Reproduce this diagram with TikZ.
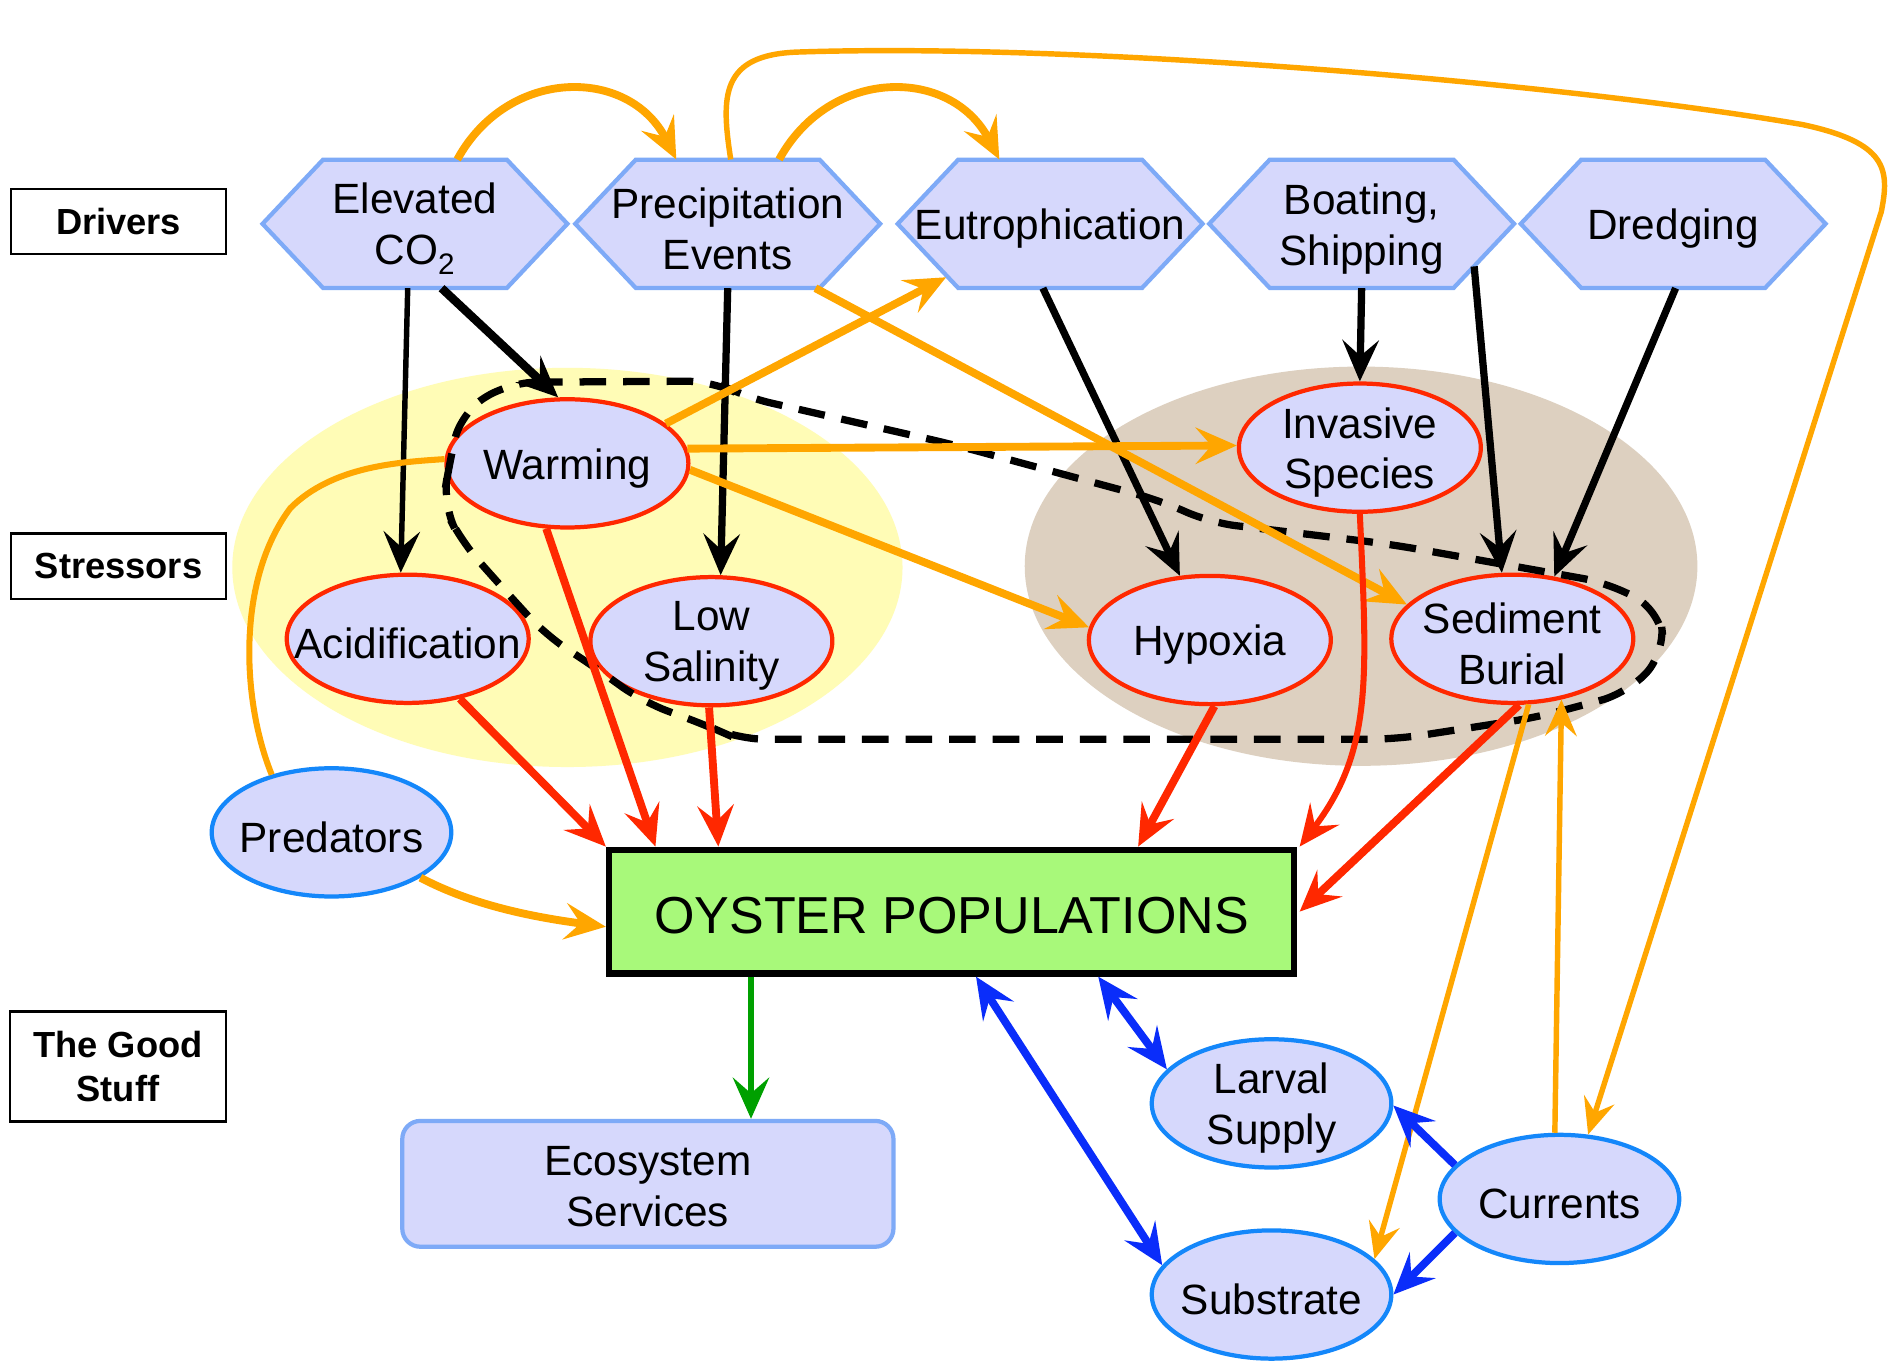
\documentclass[tikz,border=0pt]{standalone}
\usepackage{fontspec}
\setmainfont{Liberation Sans}
\usetikzlibrary{arrows.meta,shapes.geometric,calc}
\definecolor{nodefill}{RGB}{214,216,252}
\definecolor{hexline}{RGB}{126,170,247}
\definecolor{redline}{RGB}{255,40,0}
\definecolor{blueline}{RGB}{20,135,250}
\definecolor{orng}{RGB}{255,166,0}
\definecolor{bluearrow}{RGB}{10,45,250}
\definecolor{grnline}{RGB}{0,160,0}
\definecolor{yel}{RGB}{255,252,182}
\definecolor{brn}{RGB}{221,208,192}
\definecolor{oyfill}{RGB}{168,249,122}
\newcommand{\hexpath}[2]{\path[hexshape] (#1-126,#2) -- (#1-76,#2-53) -- (#1+76,#2-53) -- (#1+126,#2) -- (#1+76,#2+53) -- (#1-76,#2+53) -- cycle;}
\begin{document}
\begin{tikzpicture}[x=1pt,y=-1pt,
  every node/.style={font=\fontsize{35}{42}\selectfont, align=center, inner sep=0pt},
  hexbox/.style={minimum width=252pt, minimum height=106pt},
  hextxt/.style={yshift=-4pt},
  hexshape/.style={fill=nodefill, draw=hexline, line width=3.5pt, line join=miter},
  stress/.style={ellipse, fill=nodefill, draw=redline, line width=3.5pt, minimum width=200pt, minimum height=106pt},
  good/.style={ellipse, fill=nodefill, draw=blueline, line width=3.5pt, minimum width=198pt, minimum height=106pt},
  txt/.style={yshift=-4pt},
  lbl/.style={draw=black, line width=1.8pt, fill=white, font=\fontsize{30}{36}\selectfont\bfseries, minimum width=178pt},
  tip/.style={-{Stealth[length=34pt,width=30pt,inset=13pt]}},
  blk/.style={draw=black, line width=6pt, tip},
  org/.style={draw=orng, line width=6.5pt, tip},
  orgthin/.style={draw=orng, line width=4.5pt, -{Stealth[length=30pt,width=26pt,inset=11pt]}},
  orgline/.style={draw=orng, line width=5pt},
  rd/.style={draw=redline, line width=6.5pt, tip},
  blu/.style={draw=bluearrow, line width=6.5pt, tip},
  blu2/.style={draw=bluearrow, line width=6.5pt, {Stealth[length=34pt,width=30pt,inset=13pt]}-{Stealth[length=34pt,width=30pt,inset=13pt]}},
  grnarrow/.style={draw=grnline, line width=5pt, tip},
  dashpath/.style={draw=black, line width=6pt, dash pattern=on 22pt off 14pt, rounded corners=22pt}
]
\useasboundingbox (0,0) rectangle (1568,1125);
\fill[white] (0,0) rectangle (1568,1125);

% background regions
\fill[yel] (469,469) ellipse [x radius=277pt, y radius=165pt];
\fill[brn] (1125,468) ellipse [x radius=278pt, y radius=165pt];

% labels
\node[lbl, minimum height=54pt] (drv) at (98,183) {Drivers};
\node[lbl, minimum height=54pt] (strs) at (98,468) {Stressors};
\node[lbl, minimum height=91pt] (gdst) at (97.5,881.5) {The Good\\Stuff};

% drivers
\hexpath{343}{185}
\node[hexbox] (co2) at (343,185) {};
\node[hextxt] (co2T) at (co2) {Elevated\\CO\textsubscript{2}};
\hexpath{601.5}{185}
\node[hexbox] (prec) at (601.5,185) {};
\node[hextxt] (precT) at (prec) {Precipitation\\Events};
\hexpath{868}{185}
\node[hexbox] (eut) at (868,185) {};
\node[hextxt] (eutT) at (eut) {Eutrophication};
\hexpath{1125.5}{185}
\node[hexbox] (boat) at (1125.5,185) {};
\node[hextxt] (boatT) at (boat) {Boating,\\Shipping};
\hexpath{1383}{185}
\node[hexbox] (dred) at (1383,185) {};
\node[hextxt] (dredT) at (dred) {Dredging};

% stressors
\node[stress] (warm) at (469,383) {};
\node[txt] (warmT) at (warm) {Warming};
\node[stress] (acid) at (337,528) {};
\node[txt] (acidT) at (acid) {Acidification};
\node[stress] (lows) at (588,530) {};
\node[txt] (lowsT) at (lows) {Low\\Salinity};
\node[stress] (inv) at (1124,370) {};
\node[txt] (invT) at (inv) {Invasive\\Species};
\node[stress] (hyp) at (1000,529) {};
\node[txt] (hypT) at (hyp) {Hypoxia};
\node[stress] (sed) at (1250,528) {};
\node[txt] (sedT) at (sed) {Sediment\\Burial};

% good stuff
\node[good] (pred) at (274,688) {};
\node[txt] (predT) at (pred) {Predators};
\node[good] (larv) at (1051,912) {};
\node[txt] (larvT) at (larv) {Larval\\Supply};
\node[good] (subs) at (1051,1070) {};
\node[txt] (subsT) at (subs) {Substrate};
\node[good] (curr) at (1289,991) {};
\node[txt] (currT) at (curr) {Currents};

\node[draw=black, line width=5.5pt, fill=oyfill, minimum width=566pt, minimum height=102pt] (oy) at (786.5,753.5) {};
\node[yshift=-3pt, font=\fontsize{43}{50}\selectfont] (oyT) at (oy) {OYSTER POPULATIONS};
\node[draw=hexline, line width=3.5pt, fill=nodefill, rounded corners=15pt, minimum width=406pt, minimum height=104pt] (eco) at (535.5,978.5) {};
\node[yshift=-2pt] (ecoT) at (eco) {Ecosystem\\Services};

% dashed boundary
\draw[dashpath] (421,316) -- (590,315) -- (615,328) -- (790,368) -- (960,414) -- (1000,432) -- (1043,437) -- (1150,450) -- (1330,482) -- (1372,505) -- (1376,540) -- (1345,573) -- (1270,593) -- (1154,611) -- (610,611) -- (585,600) -- (531,580) -- (491,551) -- (451,525) -- (411,481) -- (381,447) -- (366,417) -- (371,385) -- (381,341) -- cycle;

% black arrows
\draw[blk, line width=4.5pt] ([xshift=-6pt]co2.south) -- (acid.96);
\draw[blk, line width=7pt] ([xshift=22pt]co2.south) -- (warm.98);
\draw[blk] (prec.south) -- (lows.82);
\draw[blk] ([xshift=-6pt]eut.south) -- (hyp.115);
\draw[blk] (boat.south) -- (inv.90);
\draw[blk] ([xshift=93pt,yshift=18pt]boat.south) -- (sed.99);
\draw[blk] ([xshift=2pt]dred.south) -- (sed.56);

% orange arrows
\draw[org] ([xshift=35pt]co2.north) .. controls (420,55) and (520,55) .. ([xshift=-42.5pt]prec.north);
\draw[org] ([xshift=42.5pt]prec.north) .. controls (686,55) and (786,55) .. ([xshift=-42pt]eut.north);
\draw[org] (warm.22) -- ([xshift=-86pt,yshift=9pt]eut.south);
\draw[org] (warm.7) -- (inv.179);
\draw[org] (warm.-3) -- (hyp.174);
\draw[org] ([xshift=72.5pt]prec.south) -- (sed.162);
\draw[orgline] (pred.136) .. controls (200,580) and (195,480) .. (240,420) .. controls (275,385) and (330,382) .. (warm.178);
\draw[org] (pred.-27) .. controls (390,748) and (440,758) .. ([yshift=-12.5pt]oy.west);
\draw[orgthin] ([xshift=2.5pt]prec.north) .. controls (596,80) and (595,45) .. (660,43) .. controls (900,35) and (1300,70) .. (1490,103) .. controls (1560,118) and (1562,140) .. (1555,175) -- (curr.66.5);
\draw[orgthin] (curr.94) -- (sed.-51.5);
\draw[orgthin] (sed.-76) -- (subs.19);

% red arrows
\draw[rd] (acid.-49) -- (oy.north west);
\draw[rd] (warm.-108) -- ([xshift=41pt]oy.north west);
\draw[rd] (lows.-92) -- ([xshift=93pt]oy.north west);
\draw[rd] (hyp.-86) -- ([xshift=440pt]oy.north west);
\draw[rd, line width=5pt] (inv.-90) .. controls (1130,560) and (1135,620) .. ([xshift=2pt]oy.north east);
\draw[rd] (sed.-84) -- ([xshift=2pt]oy.east);

% blue arrows
\draw[blu2] ([xshift=306pt]oy.south west) -- (subs.165);
\draw[blu2] ([xshift=407pt]oy.south west) -- (larv.162);
\draw[blu] (curr.162.6) -- (larv.-1);
\draw[blu] (curr.-162) -- (subs.0);

% green arrow
\draw[grnarrow] ([xshift=120pt]oy.south west) -- ([xshift=120pt]oy.south west |- eco.north);
\end{tikzpicture}
\end{document}
